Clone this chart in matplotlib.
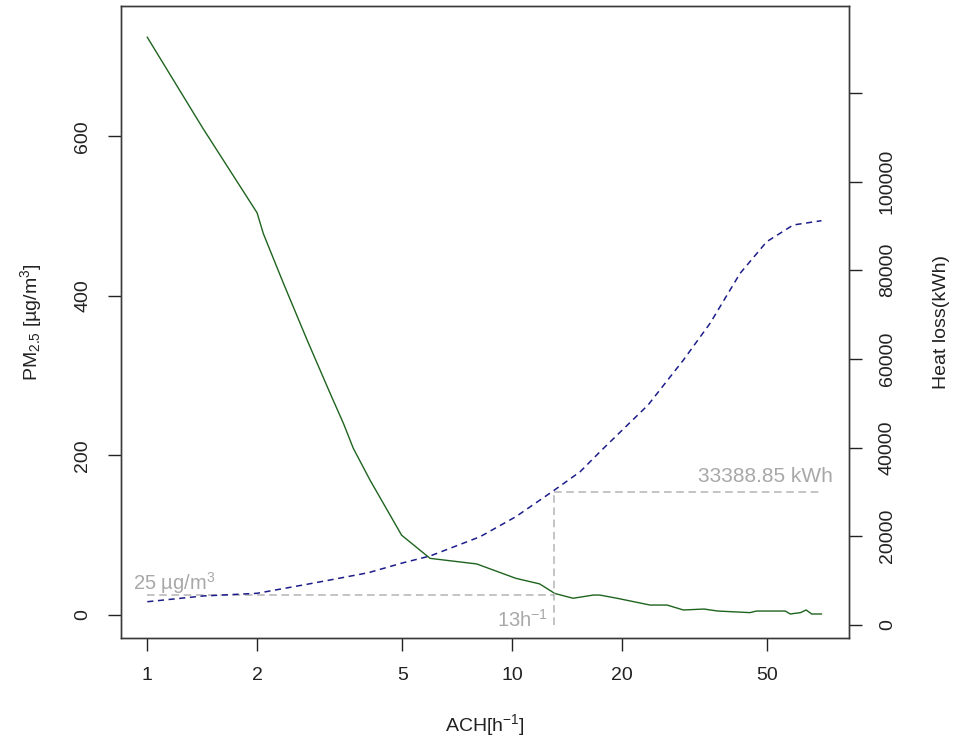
import matplotlib
matplotlib.use("Agg")
import matplotlib.pyplot as plt
from matplotlib.ticker import NullLocator, FixedLocator

plt.rcParams['font.family'] = ['Liberation Sans', 'DejaVu Sans']
plt.rcParams['mathtext.fontset'] = 'custom'
plt.rcParams['mathtext.rm'] = 'Liberation Sans'
plt.rcParams['mathtext.it'] = 'Liberation Sans:italic'
plt.rcParams['mathtext.bf'] = 'Liberation Sans:bold'

# PM2.5 vs air changes per hour
ach_pm = [1, 1.42, 2, 2.08, 2.36, 2.74, 3.17, 3.45, 3.67, 4.08, 4.98, 5.96, 8.0,
          10.24, 11.9, 13.1, 14.7, 16.7, 17.4, 19.4, 23.9, 26.6, 29.5, 33.6, 36.6,
          44.9, 46.8, 56.1, 57.9, 61.8, 64.0, 66.3, 70.5]
pm = [724, 610, 504, 478, 416, 345, 278, 240, 209, 169, 100, 71, 64,
      46, 39, 27, 21, 25, 25, 21, 12.5, 12.5, 6.3, 7.5, 5,
      3, 5, 5, 1.3, 3, 6.3, 1.3, 1.3]

# heat loss vs ACH
ach_heat = [1, 1.42, 2, 2.74, 3.24, 4.04, 5, 5.96, 8.17, 10.24, 12.96, 15.37,
            17.43, 18.2, 23.6, 29.5, 34.9, 42.2, 49.9, 59.0, 70.5]
heat = [5250, 6540, 7150, 9180, 10300, 11800, 13980, 15560, 19900, 24420, 30220, 34570,
        39080, 40590, 49610, 59760, 68030, 79310, 86430, 90200, 91170]

pm_limit = 25
ach_sel = 13
heat_sel = 30100
ach_end = 70.2

xticks = [1, 2, 5, 10, 20, 50]
pm_ticks = [0, 200, 400, 600]
heat_ticks = [0, 20000, 40000, 60000, 80000, 100000, 120000]
heat_labels = ['0', '20000', '40000', '60000', '80000', '100000', '']

W, H = 956, 742
fig = plt.figure(figsize=(W / 100, H / 100), dpi=100)
L, R, T, B = 121, 849, 6, 638
ax = fig.add_axes([L / W, 1 - B / H, (R - L) / W, (B - T) / H])
ax2 = ax.twinx()

green = '#1e641e'
blue = '#1c1c8a'
grey = '#b4b4b4'
grey_txt = '#a8a8a8'

ax.plot(ach_pm, pm, color=green, lw=1.0, zorder=3)
ax2.plot(ach_heat, heat, color=blue, lw=1.1, ls=(0, (4, 3)), zorder=3)

# guide lines
ax.plot([1, ach_sel], [pm_limit, pm_limit], color=grey, lw=1.1, ls=(0, (5, 3)))
ax2.plot([ach_sel, ach_sel], [0, heat_sel], color=grey, lw=1.1, ls=(0, (5, 3)))
ax2.plot([ach_sel, ach_end], [heat_sel, heat_sel], color=grey, lw=1.1, ls=(0, (5, 3)))

ax.text(0.914, 31.3, '25 µg/m$^3$', color=grey_txt, fontsize=14.5, ha='left', va='baseline')
ax.text(12.54, -14.7, '13h$^{-1}$', color=grey_txt, fontsize=14.5, ha='right', va='baseline')
ax2.text(75.9, 32310, '33388.85 kWh', color=grey_txt, fontsize=15, ha='right', va='baseline')

ax.set_xscale('log')
ax.set_xlim(0.847, 83.9)
ax.set_ylim(-28.8, 763.2)
ax2.set_ylim(-2931, 139585)

ax.xaxis.set_major_locator(FixedLocator(xticks))
ax.xaxis.set_minor_locator(NullLocator())
ax.set_xticklabels([str(t) for t in xticks])
ax.set_yticks(pm_ticks)
ax.set_yticklabels([str(t) for t in pm_ticks])
ax2.set_yticks(heat_ticks)
ax2.set_yticklabels(heat_labels)

tc = '#222222'
ax.tick_params(axis='x', direction='out', length=9, width=1, pad=12, labelsize=14, colors=tc)
ax.tick_params(axis='y', direction='out', length=9.5, width=1, pad=12, labelsize=14, colors=tc)
ax2.tick_params(axis='y', direction='out', length=9.5, width=1, pad=12, labelsize=14, colors=tc)
for lab in ax.get_yticklabels():
    lab.set_rotation(90)
    lab.set_va('center')
for lab in ax2.get_yticklabels():
    lab.set_rotation(90)
    lab.set_va('center')

for a in (ax, ax2):
    for s in a.spines.values():
        s.set_color('#3a3a3a')
        s.set_linewidth(1.0)

fig.text(485 / W, 1 - 731 / H, 'ACH[h$^{-1}$]', ha='center', va='baseline', fontsize=14, color=tc)
fig.text(31 / W, 1 - 322 / H, 'PM$_{2.5}$ [µg/m$^3$]', ha='center', va='center',
         rotation=90, fontsize=14, color=tc)
fig.text(942 / W, 1 - 322 / H, 'Heat loss(kWh)', ha='center', va='center',
         rotation=90, fontsize=14, color=tc)

fig.savefig('out.png', dpi=100)
